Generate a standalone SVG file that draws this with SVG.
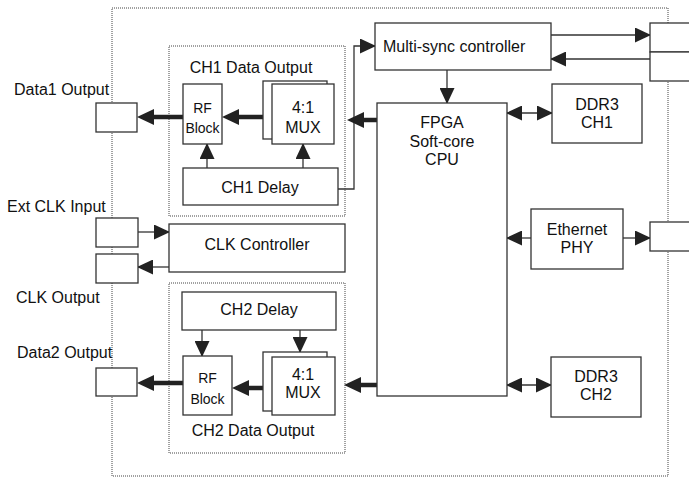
<svg xmlns="http://www.w3.org/2000/svg" width="689" height="478" viewBox="0 0 689 478">
<style>
.bx{fill:#fff;stroke:#333;stroke-width:1.3}
.dot{fill:none;stroke:#444;stroke-width:1;stroke-dasharray:1 1}
text{font-family:"Liberation Sans",Arial,sans-serif;font-size:16px;fill:#111}
.s{font-size:14px}
.c{text-anchor:middle}
.ln{fill:none;stroke:#333;stroke-width:1.3}
.th{fill:none;stroke:#222;stroke-width:4.5}
</style>
<defs>
<marker id="ah" markerUnits="userSpaceOnUse" markerWidth="16" markerHeight="15" refX="15" refY="7.5" orient="auto-start-reverse"><path d="M0,0 L16,7.5 L0,15 z" fill="#222"/></marker>
<marker id="tk" markerUnits="userSpaceOnUse" markerWidth="17" markerHeight="16" refX="3" refY="8" orient="auto"><path d="M0,0 L17,8 L0,16 z" fill="#222"/></marker>
</defs>
<rect class="dot" x="112" y="8" width="556" height="468"/>
<rect class="dot" x="169" y="46" width="176" height="170"/>
<rect class="dot" x="169" y="283" width="176" height="170"/>
<g id="connectors">
<line class="th" x1="183" y1="117" x2="151" y2="117" marker-end="url(#tk)"/>
<line class="th" x1="263" y1="117" x2="236" y2="117" marker-end="url(#tk)"/>
<line class="ln" x1="207" y1="168" x2="207" y2="144" marker-end="url(#ah)"/>
<line class="ln" x1="303" y1="168" x2="303" y2="144" marker-end="url(#ah)"/>
<polyline class="ln" points="338,189 354,189 354,46 375,46" marker-end="url(#ah)"/>
<line class="th" x1="377" y1="120" x2="361" y2="120" marker-end="url(#tk)"/>
<line class="ln" x1="551" y1="35" x2="650" y2="35" marker-end="url(#ah)"/>
<line class="ln" x1="650" y1="59" x2="551" y2="59" marker-end="url(#ah)"/>
<line class="ln" x1="447" y1="70" x2="447" y2="103" marker-end="url(#ah)"/>
<line class="ln" x1="507" y1="113" x2="552" y2="113" marker-start="url(#ah)" marker-end="url(#ah)"/>
<line class="ln" x1="531" y1="238" x2="507" y2="238" marker-end="url(#ah)"/>
<line class="ln" x1="623" y1="238" x2="650" y2="238" marker-end="url(#ah)"/>
<line class="ln" x1="507" y1="385" x2="551" y2="385" marker-start="url(#ah)" marker-end="url(#ah)"/>
<line class="th" x1="377" y1="385" x2="358" y2="385" marker-end="url(#tk)"/>
<line class="ln" x1="138" y1="232" x2="169" y2="232" marker-end="url(#ah)"/>
<line class="ln" x1="169" y1="267" x2="138" y2="267" marker-end="url(#ah)"/>
<line class="ln" x1="202" y1="330" x2="202" y2="356" marker-end="url(#ah)"/>
<line class="ln" x1="300" y1="330" x2="300" y2="352" marker-end="url(#ah)"/>
<line class="th" x1="263" y1="388" x2="246" y2="388" marker-end="url(#tk)"/>
<line class="th" x1="183" y1="383" x2="151" y2="383" marker-end="url(#tk)"/>
</g>
<g id="data1"><rect class="bx" x="96" y="103" width="41" height="29"/><text x="14" y="95">Data1 Output</text></g>
<g id="extclk"><rect class="bx" x="96" y="218" width="42" height="29"/><text x="7" y="212">Ext CLK Input</text></g>
<g id="clkout"><rect class="bx" x="96" y="254" width="42" height="29"/><text x="16" y="303">CLK Output</text></g>
<g id="data2"><rect class="bx" x="96" y="368" width="41" height="28"/><text x="17" y="358">Data2 Output</text></g>
<g id="ch1group"><text class="c" x="251" y="73">CH1 Data Output</text></g>
<g id="rf1"><rect class="bx" x="183" y="84" width="39" height="60"/><text class="c s" x="202.5" y="113">RF</text><text class="c s" x="202.5" y="133">Block</text></g>
<g id="mux1"><rect class="bx" x="263" y="81" width="64" height="58"/><rect class="bx" x="272" y="84" width="62" height="60"/><text class="c" x="303" y="113">4:1</text><text class="c" x="303" y="133">MUX</text></g>
<g id="delay1"><rect class="bx" x="183" y="168" width="155" height="37"/><text class="c" x="260" y="193">CH1 Delay</text></g>
<g id="multisync"><rect class="bx" x="375" y="23" width="176" height="47"/><text x="383" y="52">Multi-sync controller</text></g>
<g id="sync-out"><rect class="bx" x="650" y="23" width="50" height="29"/></g>
<g id="sync-in"><rect class="bx" x="650" y="52" width="50" height="29"/></g>
<g id="fpga"><rect class="bx" x="377" y="103" width="130" height="293"/><text class="c" x="442" y="128">FPGA</text><text class="c" x="442" y="147">Soft-core</text><text class="c" x="442" y="165">CPU</text></g>
<g id="ddr1"><rect class="bx" x="552" y="84" width="90" height="59"/><text class="c" x="597" y="110">DDR3</text><text class="c" x="597" y="128">CH1</text></g>
<g id="eth"><rect class="bx" x="531" y="209" width="92" height="60"/><text class="c" x="577" y="235">Ethernet</text><text class="c" x="577" y="253">PHY</text></g>
<g id="eth-port"><rect class="bx" x="650" y="222" width="50" height="29"/></g>
<g id="ddr2"><rect class="bx" x="551" y="357" width="90" height="60"/><text class="c" x="596" y="382">DDR3</text><text class="c" x="596" y="400">CH2</text></g>
<g id="clkctrl"><rect class="bx" x="169" y="224" width="176" height="48"/><text class="c" x="257" y="250">CLK Controller</text></g>
<g id="delay2"><rect class="bx" x="182" y="292" width="154" height="38"/><text class="c" x="259" y="315">CH2 Delay</text></g>
<g id="rf2"><rect class="bx" x="183" y="356" width="49" height="59"/><text class="c s" x="207.5" y="383">RF</text><text class="c s" x="207.5" y="404">Block</text></g>
<g id="mux2"><rect class="bx" x="263" y="352" width="64" height="59"/><rect class="bx" x="272" y="357" width="63" height="58"/><text class="c" x="303" y="380">4:1</text><text class="c" x="303" y="398">MUX</text></g>
<g id="ch2group"><text class="c" x="253" y="436">CH2 Data Output</text></g>
</svg>
